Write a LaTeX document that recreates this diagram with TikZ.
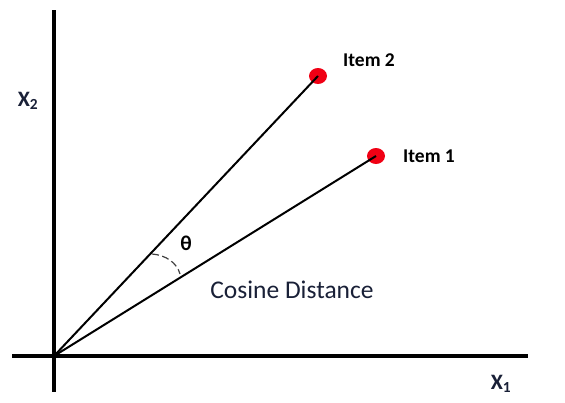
\documentclass[tikz,border=0pt]{standalone}
\usepackage{fontspec}
\setmainfont{Carlito}
\usetikzlibrary{shapes.geometric}
\definecolor{navy}{RGB}{25,32,55}
\definecolor{dotred}{RGB}{240,0,20}
\begin{document}
\begin{tikzpicture}[x=1pt,y=-1pt,
  axis/.style={line width=3.5pt},
  ray/.style={line width=2pt},
  itemdot/.style={ellipse,fill=dotred,minimum width=18pt,minimum height=16pt,inner sep=0pt},
  itemlbl/.style={font=\fontsize{19.5}{22}\selectfont\bfseries,anchor=west,inner sep=0pt},
  axlbl/.style={font=\fontsize{22}{26}\selectfont\bfseries,text=navy,inner sep=0pt}]
\useasboundingbox (0,0) rectangle (565,402);
\coordinate (o) at (54,356);
\coordinate (ytop) at (54,10);
\coordinate (ybot) at (54,392);
\coordinate (xl) at (12,356);
\coordinate (xr) at (528,356);
\draw[axis] (ytop) -- (ybot);
\draw[axis] (xl) -- (xr);
\node[itemdot] (i2) at (318,76) {};
\node[itemdot] (i1) at (376,156) {};
\draw[ray] (o) -- (i2.center);
\draw[ray] (o) -- (i1.center);
\node[itemlbl] (l2) at (343,60) {Item 2};
\node[itemlbl] (l1) at (403,156) {Item 1};
\node[axlbl] (x2) at (28,101) {X\textsubscript{2}};
\node[axlbl] (x1) at (501,384) {X\textsubscript{1}};
\node[font=\fontsize{21}{24}\selectfont\bfseries,inner sep=0pt] (th) at (186,243) {θ};
\coordinate (a1) at (152,254);
\coordinate (a2) at (180,274);
\draw[line width=1.2pt,dash pattern=on 7pt off 3.5pt,black!75] (a1) .. controls (166,255) and (177,263) .. (a2);
\node[font=\fontsize{25.5}{30}\selectfont,text=navy,inner sep=0pt] (cd) at (292,290) {Cosine Distance};
\end{tikzpicture}
\end{document}
